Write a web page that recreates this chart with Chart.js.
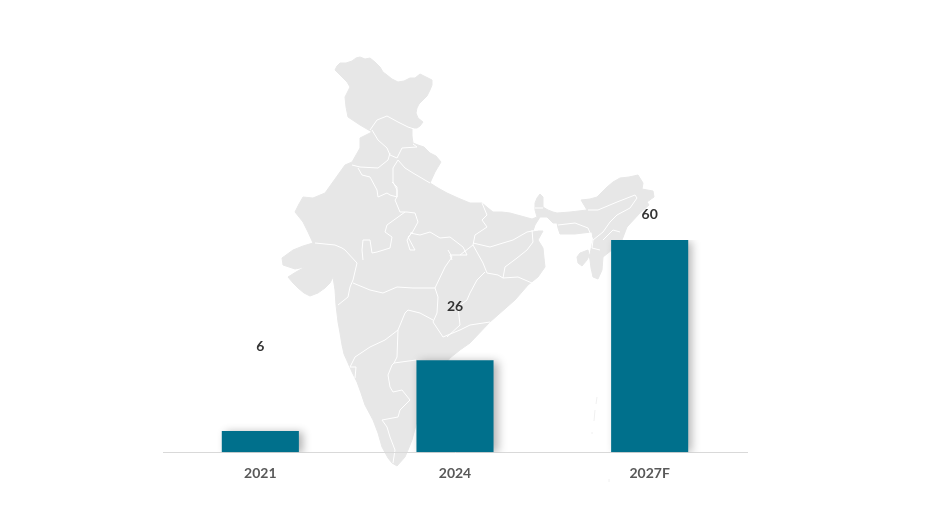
<!DOCTYPE html>
<html>
<head>
<meta charset="utf-8">
<title>India chart</title>
<script src="https://cdn.jsdelivr.net/npm/chart.js@4"></script>
<style>
    html, body { margin: 0; padding: 0; background: #fff; }
    #wrap { position: relative; width: 925px; height: 521px; }
</style>
</head>
<body>
<div id="wrap"><canvas id="barChart"></canvas></div>
<script>
const years = ["2021", "2024", "2027F"];
const values = [6, 26, 60];

// backdrop map, traced by hand in page pixels. Not chart data.
const indiaOutline = [
    [335,70],[337,66],[340,63],[346,63],[352,61],[356,58],[360,57],[365,59],[370,58],[375,62],[380,67],[383,72],[387,75],[392,79],[398,82],[404,81],[410,78],[415,78],[420,74],[426,77],[432,80],[432,85],[430,90],
    [427,96],[423,100],[419,104],[417,108],[416,113],[418,118],[423,122],[420,126],[417,128],[412,128],[412,136],[413,143],[418,145],[424,147],[430,153],[436,156],[441,162],[438,167],[435,172],
    [430,183],[438,188],[447,193],[458,198],[470,203],[482,203],[488,208],[493,212],[502,212],[510,213],[521,216],[532,219],[537,217],[535,210],[535,203],[537,198],[540,194],[543,197],
    [543,207],[548,210],[553,212],[557,213],[570,212],[587,210],[581,200],[590,199],[597,197],[602,192],[607,187],[613,182],[620,178],[629,177],[638,175],[643,183],[642,189],
    [653,191],[654,197],[647,202],[649,205],[640,213],[627,227],[622,240],[612,250],[603,257],[602,270],[598,279],
    [593,277],[591,268],[590,260],[588,250],[580,253],[577,257],[578,263],[582,266],[587,260],[590,254],[593,240],[592,232],
    [583,233],[575,234],[560,234],[558,228],[557,223],[553,223],[547,217],[540,217],[535,225],[533,231],[543,231],[538,240],[543,248],
    [544,258],[545,267],[538,277],[528,285],[522,292],[515,300],[490,322],[470,343],[460,350],[450,358],[430,385],[420,410],
    [412,440],[408,450],[405,457],[397,466],[392,463],[388,458],[382,447],[378,433],[373,420],[365,405],[361,393],[357,382],[352,372],[348,363],[344,354],[342,345],
    [340,333],[338,322],[336,305],[335,290],[333,277],[330,283],[325,288],[318,293],[310,296],[304,293],[298,288],[293,283],[288,277],[296,272],[305,267],[295,269],[283,265],
    [282,258],[293,250],[303,246],[313,243],[308,232],[303,222],[295,212],[299,204],[303,197],[313,198],[325,193],[335,179],[345,165],[352,162],[356,155],[360,148],
    [360,138],[372,132],[360,125],[348,117],[346,107],[345,97],[350,87],[347,82],[341,76]
];

const stateBorders = [
    [[370,130],[377,120],[387,116],[398,122],[408,127],[414,129]],
    [[372,130],[378,140],[387,148],[390,155],[397,158],[402,148],[417,147],[413,144]],
    [[398,160],[405,168],[413,173],[430,183]],
    [[352,165],[360,167],[378,168],[388,160],[390,153]],
    [[358,168],[362,175],[370,177],[377,190],[378,197],[387,193],[390,195],[397,197],[397,187],[392,182]],
    [[398,160],[393,168],[393,182],[397,190],[397,197],[395,200],[400,212],[407,212],[415,213],[418,222],[412,233],[408,237],[415,250],[410,250],[407,240],[412,232]],
    [[405,212],[387,225],[385,232],[392,237],[390,248],[377,252],[372,253],[370,240],[363,240],[362,250],[363,260]],
    [[315,243],[335,245],[342,248],[345,250],[357,263],[353,280],[350,287],[348,297],[338,305]],
    [[410,233],[420,235],[430,232],[440,238],[450,237],[463,247],[467,255],[450,255],[452,260]],
    [[482,203],[487,215],[482,220],[487,227],[475,235],[473,245],[460,255]],
    [[473,243],[490,247],[503,243],[513,240],[527,232],[538,230]],
    [[473,245],[483,263],[487,273],[498,275],[503,278],[505,267],[517,258],[527,250],[533,242],[532,230]],
    [[503,278],[518,277],[532,283]],
    [[485,272],[477,280],[470,293],[467,300],[458,307],[460,325],[447,337]],
    [[353,283],[370,290],[383,293],[397,287],[413,288],[435,288],[438,297],[437,313],[433,322],[443,337],[460,330],[470,325],[490,322]],
    [[435,288],[445,267],[452,257],[448,250]],
    [[398,330],[405,313],[408,310],[420,313],[433,320]],
    [[350,367],[355,357],[370,347],[385,340],[398,330],[397,357],[394,363],[392,365],[388,375],[390,387],[393,392],[402,390],[410,400],[400,410],[398,417],[382,420],[387,427],[390,437],[395,450],[393,463]],
    [[394,363],[416,360]],
    [[350,367],[356,367],[355,378]],
    [[588,210],[598,210],[617,202],[635,195],[637,198],[630,208],[617,215],[610,222],[603,232],[593,240],[592,248]],
    [[558,225],[575,223],[588,228],[593,240]],
    [[603,240],[613,230],[620,232]],
    [[600,250],[592,248]],
    [[535,208],[543,208]]
];

const islands = [
    [[597,397],[596,404]],
    [[595,410],[594,421]],
    [[592,432],[592,434]],
    [[609,479],[609,482]]
];

function tracePath(ctx, pts) {
    ctx.beginPath();
    pts.forEach((p, i) => {
        if (i === 0) ctx.moveTo(p[0], p[1]);
        else ctx.lineTo(p[0], p[1]);
    });
}

const mapBackdrop = {
    id: "mapBackdrop",
    beforeDraw(chart) {
        const ctx = chart.ctx;
        ctx.save();
        ctx.lineJoin = "round";
        ctx.fillStyle = "#e7e7e7";
        ctx.strokeStyle = "#e7e7e7";
        ctx.lineWidth = 1;
        tracePath(ctx, indiaOutline);
        ctx.closePath();
        ctx.fill();
        ctx.stroke();

        ctx.strokeStyle = "#f0f0f0";
        islands.forEach(line => {
            tracePath(ctx, line);
            ctx.stroke();
        });

        ctx.strokeStyle = "#ffffff";
        stateBorders.forEach(line => {
            tracePath(ctx, line);
            ctx.stroke();
        });
        ctx.restore();
    }
};

// soft shadow right of the bars, like the original
const barShadow = {
    id: "barShadow",
    beforeDatasetDraw(chart) {
        const ctx = chart.ctx;
        ctx.save();
        ctx.shadowColor = "rgba(0,0,0,0.3)";
        ctx.shadowBlur = 9;
        ctx.shadowOffsetX = 4;
        ctx.shadowOffsetY = 1;
    },
    afterDatasetDraw(chart) {
        chart.ctx.restore();
    }
};

// value labels float at uneven heights over the bars in the original
const valueLabels = {
    id: "valueLabels",
    afterDatasetsDraw(chart, args, opts) {
        const ctx = chart.ctx;
        const meta = chart.getDatasetMeta(0);
        ctx.save();
        ctx.font = "bold 14px Lato";
        ctx.fillStyle = "#333333";
        ctx.textAlign = "center";
        ctx.textBaseline = "middle";
        meta.data.forEach((bar, i) => {
            ctx.fillText(values[i], bar.x, bar.y - opts.lift[i]);
        });
        ctx.restore();
    }
};

new Chart(document.getElementById("barChart").getContext("2d"), {
    type: "bar",
    data: {
        labels: years,
        datasets: [{
            data: values,
            backgroundColor: "#00708c",
            borderWidth: 0,
            categoryPercentage: 1,
            barPercentage: 0.396
        }]
    },
    options: {
        responsive: true,
        maintainAspectRatio: false,
        animation: false,
        layout: { padding: { left: 163, right: 178, top: 240, bottom: 34 } },
        plugins: {
            legend: { display: false },
            title: { display: false },
            tooltip: { enabled: false },
            valueLabels: { lift: [84, 54, 26] }
        },
        scales: {
            x: {
                grid: { display: false },
                border: { color: "#d9d9d9", width: 1 },
                ticks: {
                    color: "#595959",
                    font: { family: "Lato", size: 14, weight: "bold" },
                    padding: 5,
                    maxRotation: 0
                }
            },
            y: {
                display: false,
                min: 0,
                max: 60
            }
        }
    },
    plugins: [mapBackdrop, barShadow, valueLabels]
});
</script>
</body>
</html>
